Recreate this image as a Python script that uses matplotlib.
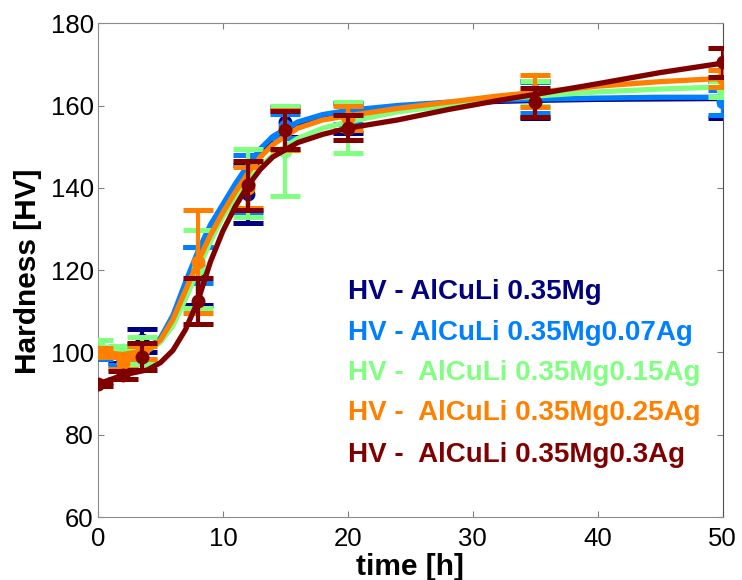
import matplotlib.pyplot as plt

plt.rcParams['font.family'] = ['Liberation Sans', 'DejaVu Sans']

# measurement times [h]
times = [0, 2, 3.5, 8, 12, 15, 20, 35, 50]

# mean hardness and error for each alloy
hv_mg = [100, 98.5, 103, 118.5, 138.5, 156, 157, 161.5, 161.5]
err_mg = [1, 1, 2.8, 7, 7, 3.6, 3.7, 4.5, 4.5]
hv_ag007 = [99.5, 98, 100, 121.2, 141, 155, 158, 162, 160.8]
err_ag007 = [1, 1, 2, 4.4, 7, 3, 2.5, 3.8, 3]
hv_ag015 = [102, 100.5, 100.5, 120.2, 141.2, 149, 154.6, 163, 164]
err_ag015 = [1, 1, 3.3, 9.5, 8.3, 11, 6.2, 3, 2]
hv_ag025 = [100, 97.5, 100, 122, 140, 154, 157, 163.5, 166.6]
err_ag025 = [1, 1.5, 1.5, 12.5, 5, 4.9, 3, 3.9, 2]
hv_ag03 = [92.3, 94.5, 99, 112.5, 140.6, 154, 154.6, 160.8, 170.5]
err_ag03 = [0.5, 1, 3.2, 5.5, 6, 4.6, 3, 3.5, 3.5]

# fitted curves, sampled at fit_t
fit_t = [0, 2, 4, 5, 6, 7, 8, 9, 10, 11, 12, 13, 14, 16, 18, 20, 24, 28, 32, 36, 40, 45, 50]
fit_mg = [100, 100, 101, 103, 108, 116, 123, 130, 135.5, 140.5, 144.5, 148.5, 151.5, 155, 156.8, 157.8,
          159.5, 160.5, 161, 161.3, 161.5, 161.6, 161.7]
fit_ag007 = [99.5, 99.5, 101, 103.5, 109, 117, 124.5, 131, 136, 141, 145.5, 149.5, 152.5, 156, 157.8, 158.8,
             160, 160.8, 161.3, 161.6, 161.8, 162, 162]
fit_ag015 = [101.5, 100.5, 100.5, 102.5, 106.5, 113, 120, 127, 133, 137.5, 141.5, 145, 148, 152, 154.5, 156,
             158.5, 160, 161.5, 162.5, 163.3, 164, 164.5]
fit_ag025 = [100, 99.5, 100.5, 103, 108, 115, 122, 128.5, 134, 139, 143.5, 147.5, 150.5, 154.5, 156.5, 157.5,
             159.3, 160.8, 162.3, 163.5, 164.7, 165.8, 166.6]
fit_ag03 = [92.3, 94.5, 95.8, 97.5, 100.5, 105.5, 112.5, 122, 129.5, 135.5, 140.5, 144.5, 147.5, 151, 153, 154.5,
            156.5, 159, 161.2, 163.2, 165.3, 168, 170.3]

labels = ['HV - AlCuLi 0.35Mg', 'HV - AlCuLi 0.35Mg0.07Ag', 'HV -  AlCuLi 0.35Mg0.15Ag',
          'HV -  AlCuLi 0.35Mg0.25Ag', 'HV -  AlCuLi 0.35Mg0.3Ag']
colors = ['#000080', '#0080ff', '#80ff80', '#ff8000', '#800000']

means = [hv_mg, hv_ag007, hv_ag015, hv_ag025, hv_ag03]
errs = [err_mg, err_ag007, err_ag015, err_ag025, err_ag03]
fits = [fit_mg, fit_ag007, fit_ag015, fit_ag025, fit_ag03]

fig = plt.figure(figsize=(7.42, 5.8), dpi=100)
ax = fig.add_axes([0.132, 0.1086, 0.842, 0.8514])

for i in range(len(means)):
    ax.plot(fit_t, fits[i], color=colors[i], linewidth=3.8, solid_capstyle='round', zorder=2 + i)
    ax.errorbar(times, means[i], yerr=errs[i], fmt='o', color=colors[i], markersize=9,
                elinewidth=3, capsize=10.5, capthick=3.6, zorder=2 + i)

# legend written as coloured text
leg_y = [114.6, 104.7, 95.0, 85.2, 75.1]
for i in range(len(labels)):
    ax.text(20, leg_y[i], labels[i], color=colors[i], fontsize=20, fontweight='bold',
            va='center', ha='left', zorder=10)

ax.set_xlim(0, 50)
ax.set_ylim(60, 180)
ax.set_xticks([0, 10, 20, 30, 40, 50])
ax.set_yticks([60, 80, 100, 120, 140, 160, 180])
ax.tick_params(direction='in', length=4.5, width=0.8, color='#808080', labelsize=18.5,
               top=True, right=True, pad=3)
ax.tick_params(axis='x', pad=7.5)
for side in ['left', 'bottom', 'top']:
    ax.spines[side].set_color('#8c8c8c')
ax.spines['right'].set_color('#505050')

ax.set_xlabel('time [h]', fontsize=21.5, fontweight='bold')
ax.set_ylabel('Hardness [HV]', fontsize=21.5, fontweight='bold')
ax.xaxis.set_label_coords(0.5, -0.073)
ax.yaxis.set_label_coords(-0.090, 0.498)

fig.savefig('out.png', dpi=100)
